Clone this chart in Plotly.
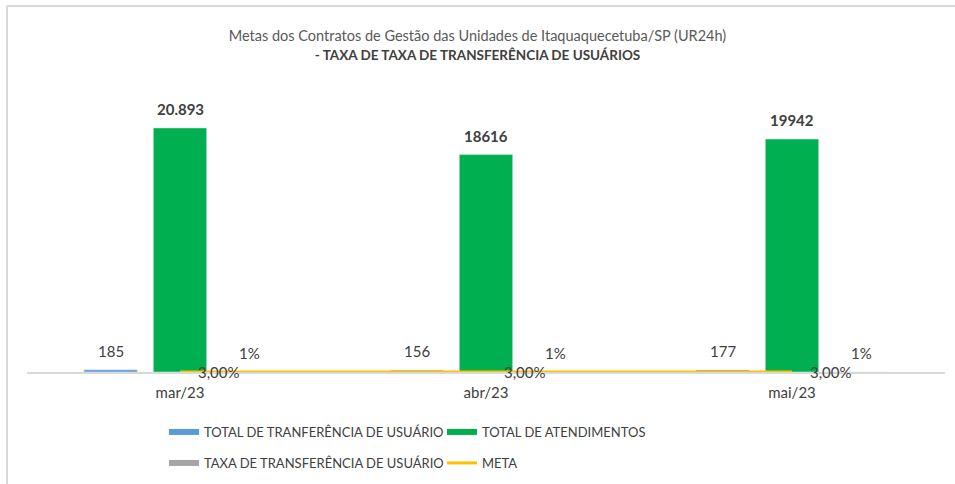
import plotly.graph_objects as go

months = ["mar/23", "abr/23", "mai/23"]
total_transf = [185, 156, 177]
total_atend = [20893, 18616, 19942]
taxa_transf = [0.0089, 0.0084, 0.0089]
meta = [0.03, 0.03, 0.03]

total_transf_lbl = ["185", "156", "177"]
total_atend_lbl = ["20.893", "18616", "19942"]
taxa_lbl = ["1%", "1%", "1%"]
meta_lbl = ["3,00%", "3,00%", "3,00%"]

FONT = "Lato"
TXT = "#404040"
SLOT = 69.4  # pixel offset of each bar inside a group
C_BLUE, C_GREEN, C_GREY, C_META = "#5B9BD5", "#00B050", "#A5A5A5", "#FFC000"

fig = go.Figure()
fig.add_bar(name="TOTAL DE TRANFERÊNCIA DE USUÁRIO", x=months, y=total_transf,
            marker_color=C_BLUE, showlegend=False)
fig.add_bar(name="TOTAL DE ATENDIMENTOS", x=months, y=total_atend,
            marker_color=C_GREEN, showlegend=False)
fig.add_bar(name="TAXA DE TRANSFERÊNCIA DE USUÁRIO", x=months, y=taxa_transf,
            marker_color=C_GREY, showlegend=False)
fig.add_scatter(name="META", x=months, y=meta, mode="lines",
                line=dict(color=C_META, width=3), cliponaxis=False,
                showlegend=False)

# legend entries (Excel-like wide swatches)
for name, col, w, leg in (("TOTAL DE TRANFERÊNCIA DE USUÁRIO", C_BLUE, 6, "legend"),
                          ("TOTAL DE ATENDIMENTOS", C_GREEN, 6, "legend"),
                          ("TAXA DE TRANSFERÊNCIA DE USUÁRIO", C_GREY, 6, "legend2"),
                          ("META", C_META, 3, "legend2")):
    fig.add_scatter(name=name, x=[None], y=[None], mode="lines",
                    line=dict(color=col, width=w), legend=leg, hoverinfo="skip")

# bar value labels
for vals, lbls, shift in ((total_transf, total_transf_lbl, -SLOT),
                          (total_atend, total_atend_lbl, 0),
                          (taxa_transf, taxa_lbl, SLOT)):
    for m, v, t in zip(months, vals, lbls):
        fig.add_annotation(x=m, y=v, text=f"<b>{t}</b>" if shift == 0 else t,
                           showarrow=False, xanchor="center", yanchor="middle",
                           xshift=shift, yshift=19,
                           font=dict(family=FONT, size=15, color=TXT))

# meta labels
for m, v, t in zip(months, meta, meta_lbl):
    fig.add_annotation(x=m, y=v, text=t, showarrow=False, xanchor="left",
                       yanchor="middle", xshift=16,
                       font=dict(family=FONT, size=15, color=TXT))

# chart border (light grey)
PH = 292.0
PW = 918.0
fig.add_shape(type="line", xref="paper", yref="paper",
              x0=(7 - 27) / PW, x1=(7 - 27) / PW,
              y0=-0.5, y1=(372 - 6) / PH, line=dict(color="#D9D9D9", width=2))
fig.add_shape(type="line", xref="paper", yref="paper",
              x0=(7 - 27) / PW, x1=1.05,
              y0=(372 - 6) / PH, y1=(372 - 6) / PH, line=dict(color="#D9D9D9", width=2))

legfont = dict(family=FONT, size=13, color=TXT)
fig.update_layout(
    width=955, height=484,
    margin=dict(l=27, r=10, t=80, b=112, autoexpand=False),
    paper_bgcolor="white", plot_bgcolor="white",
    barmode="group", bargap=0.32, bargroupgap=0.23,
    font=dict(family=FONT, color=TXT),
    hovermode=False,
    title=dict(
        text="<span style='color:#595959'>Metas dos Contratos de Gestão das Unidades de Itaquaquecetuba/SP (UR24h)</span><br>"
             "<b style='font-size:13.5px'>- TAXA DE TAXA DE TRANSFERÊNCIA DE USUÁRIOS</b>",
        x=0.5, xref="container", xanchor="center",
        y=1 - 41 / 484, yref="container", yanchor="top",
        font=dict(family=FONT, size=14.5, color=TXT),
    ),
    xaxis=dict(showline=True, linecolor="#D9D9D9", linewidth=1.5, ticks="",
               layer="below traces", ticklabelstandoff=6,
               tickfont=dict(family=FONT, size=15, color=TXT), showgrid=False),
    yaxis=dict(range=[0, 25000], visible=False, showgrid=False),
    showlegend=True,
    legend=dict(orientation="h", x=(164 - 27) / PW, xanchor="left",
                y=(372 - 432) / PH, yanchor="middle",
                entrywidth=233, entrywidthmode="pixels",
                font=legfont, traceorder="normal", itemwidth=30),
    legend2=dict(orientation="h", x=(164 - 27) / PW, xanchor="left",
                 y=(372 - 463) / PH, yanchor="middle",
                 entrywidth=233, entrywidthmode="pixels",
                 font=legfont, traceorder="normal", itemwidth=30),
)

fig.write_html("out.html", post_script="document.body.style.margin='0';",
               config={"displayModeBar": False})
